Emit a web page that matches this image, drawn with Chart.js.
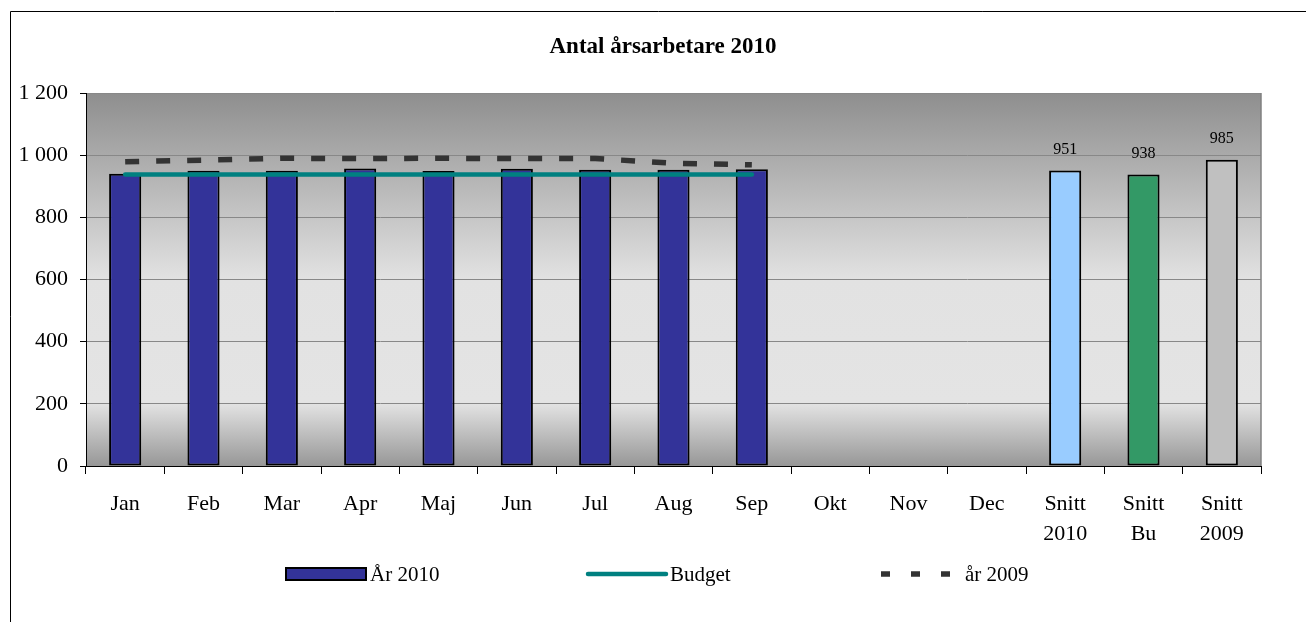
<!DOCTYPE html>
<html>
<head>
<meta charset="utf-8">
<script src="https://cdn.jsdelivr.net/npm/chart.js@4.4.0/dist/chart.umd.min.js"></script>
<style>
  html, body { margin: 0; padding: 0; background: #fff; }
  #wrap { position: relative; width: 1306px; height: 622px; }
</style>
</head>
<body>
<div id="wrap"><canvas id="chart"></canvas></div>
<script>
// values
const categories = ['Jan', 'Feb', 'Mar', 'Apr', 'Maj', 'Jun', 'Jul', 'Aug', 'Sep', 'Okt', 'Nov', 'Dec',
    ['Snitt', '2010'], ['Snitt', 'Bu'], ['Snitt', '2009']];
const ar2010 = [940, 950, 950, 957, 949, 956, 953, 953, 955, null, null, null];
const snittValues = [951, 938, 985];
const budget = [938, 938, 938, 938, 938, 938, 938, 938, 938];
const ar2009 = [979, 984, 990, 989, 990, 989, 989, 974, 969];
const yTicks = [0, 200, 400, 600, 800, 1000, 1200];

const SERIF = "'Liberation Serif', 'Times New Roman', serif";
const monthColor = '#333399';
const snittColors = ['#99ccff', '#339966', '#c0c0c0'];
const barColors = ar2010.map(() => monthColor).concat(snittColors);

const fmt = v => String(v).replace(/\B(?=(\d{3})+(?!\d))/g, ' ');

const plotDecor = {
    id: 'plotDecor',
    beforeDraw(chart) {
        const { ctx, chartArea: a } = chart;
        ctx.save();
        const g = ctx.createLinearGradient(0, a.top, 0, a.bottom);
        g.addColorStop(0, '#8e8e8e');
        g.addColorStop(0.5, '#e2e2e2');
        g.addColorStop(0.83, '#e4e4e4');
        g.addColorStop(1, '#979797');
        ctx.fillStyle = g;
        ctx.fillRect(a.left, a.top, a.width, a.height);
        // outer frame (only left and top edges are visible)
        ctx.strokeStyle = '#000';
        ctx.lineWidth = 1;
        ctx.beginPath();
        ctx.moveTo(10.5, 622);
        ctx.lineTo(10.5, 11.5);
        ctx.lineTo(1306, 11.5);
        ctx.stroke();
        // title
        ctx.fillStyle = '#000';
        ctx.font = 'bold 23px ' + SERIF;
        ctx.textAlign = 'center';
        ctx.textBaseline = 'alphabetic';
        ctx.fillText('Antal årsarbetare 2010', 663, 53);
        ctx.restore();
    },
    afterDraw(chart) {
        const { ctx, chartArea: a } = chart;
        ctx.save();
        // plot area right edge
        ctx.strokeStyle = '#808080';
        ctx.lineWidth = 1.5;
        ctx.beginPath();
        ctx.moveTo(a.right, a.top);
        ctx.lineTo(a.right, a.bottom);
        ctx.stroke();

        // value labels on the Snitt bars
        const meta = chart.getDatasetMeta(0);
        ctx.fillStyle = '#000';
        ctx.font = '16px ' + SERIF;
        ctx.textAlign = 'center';
        ctx.textBaseline = 'middle';
        for (let i = ar2010.length; i < meta.data.length; i++) {
            const bar = meta.data[i];
            ctx.fillText(chart.data.datasets[0].data[i], bar.x, bar.y - 21);
        }

        // legend
        const ds = chart.data.datasets;
        const ly = 574;
        ctx.font = '21px ' + SERIF;
        ctx.textAlign = 'left';
        ctx.textBaseline = 'middle';

        ctx.fillStyle = monthColor;
        ctx.fillRect(286, 568, 80, 12);
        ctx.strokeStyle = '#000';
        ctx.lineWidth = 2;
        ctx.strokeRect(286, 568, 80, 12);
        ctx.fillStyle = '#000';
        ctx.fillText(ds[0].label, 370, ly + 1);

        ctx.strokeStyle = ds[1].borderColor;
        ctx.lineWidth = ds[1].borderWidth;
        ctx.lineCap = 'round';
        ctx.beginPath();
        ctx.moveTo(588, ly);
        ctx.lineTo(666, ly);
        ctx.stroke();
        ctx.fillText(ds[1].label, 670, ly + 1);

        ctx.strokeStyle = ds[2].borderColor;
        ctx.lineWidth = ds[2].borderWidth;
        ctx.lineCap = 'butt';
        ctx.setLineDash([9, 21]);
        ctx.beginPath();
        ctx.moveTo(881, ly);
        ctx.lineTo(955, ly);
        ctx.stroke();
        ctx.setLineDash([]);
        ctx.fillText(ds[2].label, 965, ly + 1);
        ctx.restore();
    }
};

new Chart(document.getElementById('chart'), {
    type: 'bar',
    data: {
        labels: categories,
        datasets: [
            {
                label: 'År 2010',
                data: ar2010.concat(snittValues),
                backgroundColor: barColors,
                borderColor: '#000',
                borderWidth: 2,
                borderSkipped: false,
                categoryPercentage: 1.0,
                barPercentage: 0.41,
                order: 2
            },
            {
                type: 'line',
                label: 'Budget',
                data: budget,
                borderColor: '#008080',
                borderWidth: 4.5,
                borderCapStyle: 'round',
                pointRadius: 0,
                fill: false,
                order: 1
            },
            {
                type: 'line',
                label: 'år 2009',
                data: ar2009,
                borderColor: '#333333',
                borderWidth: 5.5,
                borderDash: [14, 17],
                pointRadius: 0,
                fill: false,
                order: 0
            }
        ]
    },
    options: {
        responsive: true,
        maintainAspectRatio: false,
        animation: false,
        layout: { padding: { top: 93, right: 45, left: 0, bottom: 0 } },
        plugins: {
            legend: { display: false },
            title: { display: false },
            tooltip: { enabled: false }
        },
        scales: {
            x: {
                afterFit: s => { s.height = 156; },
                grid: { offset: true, drawOnChartArea: false, tickLength: 8, tickColor: '#000', tickWidth: 1 },
                border: { color: '#000', width: 1 },
                ticks: {
                    color: '#000',
                    font: { family: SERIF, size: 22, lineHeight: 1.36 },
                    padding: 15,
                    maxRotation: 0,
                    autoSkip: false
                }
            },
            y: {
                min: 0,
                max: 1200,
                afterFit: s => { s.width = 86; },
                afterBuildTicks: s => { s.ticks = yTicks.map(v => ({ value: v })); },
                grid: { color: '#888888', tickLength: 6, tickColor: '#000', lineWidth: 1 },
                border: { color: '#000', width: 1 },
                ticks: {
                    color: '#000',
                    font: { family: SERIF, size: 22 },
                    padding: 12,
                    callback: v => fmt(v)
                }
            }
        }
    },
    plugins: [plotDecor]
});
</script>
</body>
</html>
